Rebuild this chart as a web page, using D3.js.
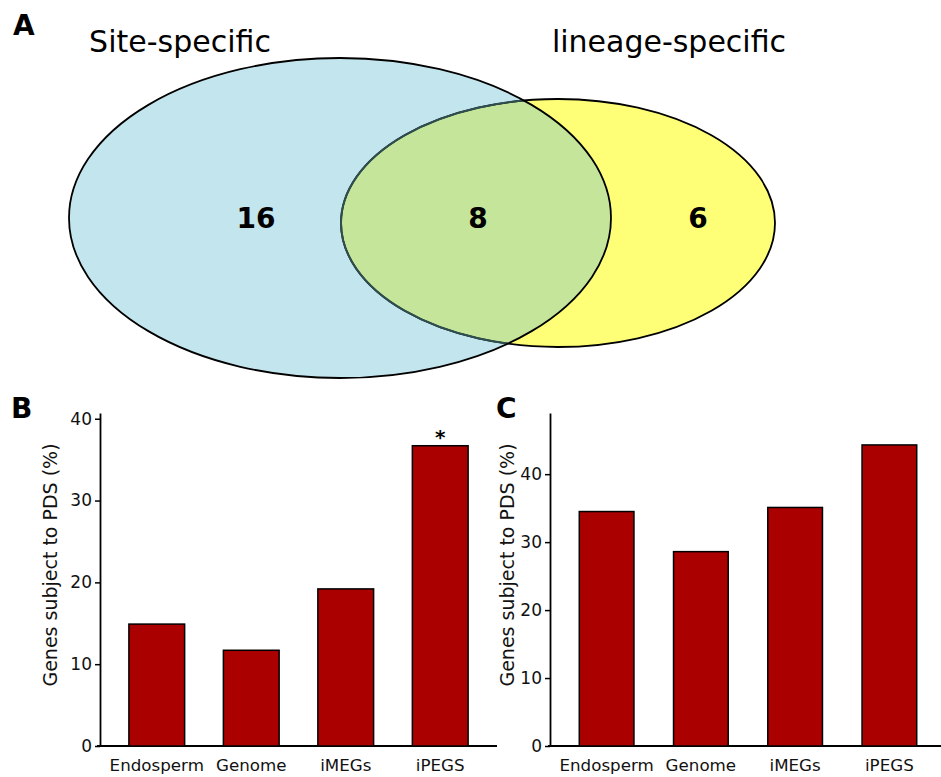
<!DOCTYPE html>
<html>
<head>
<meta charset="utf-8">
<script src="https://cdn.jsdelivr.net/npm/d3@7"></script>
<style>
  body { margin: 0; background: #fff; }
  svg { font-family: "DejaVu Sans", sans-serif; }
</style>
</head>
<body>
<svg id="chart" width="941" height="777"></svg>
<script>
// Venn data
let vennSets = ["Site-specific", "lineage-specific"];
let vennCounts = [16, 8, 6]; // only site, both, only lineage

// bar data
let categories = ["Endosperm", "Genome", "iMEGs", "iPEGS"];
let valuesB = [14.9, 11.7, 19.2, 36.7];
let valuesC = [34.5, 28.6, 35.1, 44.3];
let starsB = ["", "", "", "*"];
let ticksB = [0, 10, 20, 30, 40];
let ticksC = [0, 10, 20, 30, 40];

let svg = d3.select('#chart');

// panel letters
svg.selectAll('text.panel')
  .data([["A", 13, 35], ["B", 11, 418], ["C", 496, 418]])
  .enter().append('text')
  .attr('class', 'panel')
  .attr('x', d => d[1]).attr('y', d => d[2])
  .attr('font-size', 28).attr('font-weight', 'bold')
  .text(d => d[0]);

// ---- A: venn ----
let venn = svg.append('g');
let e1 = {cx: 340, cy: 218, rx: 271, ry: 160};
let e2 = {cx: 558, cy: 223, rx: 217, ry: 124};

let defs = svg.append('defs');
defs.append('clipPath').attr('id', 'clipBlue')
  .append('ellipse').attr('cx', e1.cx).attr('cy', e1.cy).attr('rx', e1.rx).attr('ry', e1.ry);

venn.append('ellipse').attr('cx', e1.cx).attr('cy', e1.cy).attr('rx', e1.rx).attr('ry', e1.ry)
  .attr('fill', '#c3e5ed');
venn.append('ellipse').attr('cx', e2.cx).attr('cy', e2.cy).attr('rx', e2.rx).attr('ry', e2.ry)
  .attr('fill', '#ffff77');
venn.append('ellipse').attr('cx', e2.cx).attr('cy', e2.cy).attr('rx', e2.rx).attr('ry', e2.ry)
  .attr('clip-path', 'url(#clipBlue)')
  .attr('fill', '#c5e59b');
venn.append('ellipse').attr('cx', e2.cx).attr('cy', e2.cy).attr('rx', e2.rx).attr('ry', e2.ry)
  .attr('fill', 'none').attr('stroke', '#000').attr('stroke-width', 1.8);
venn.append('ellipse').attr('cx', e2.cx).attr('cy', e2.cy).attr('rx', e2.rx).attr('ry', e2.ry)
  .attr('clip-path', 'url(#clipBlue)')
  .attr('fill', 'none').attr('stroke', '#2f4f4f').attr('stroke-width', 2);
venn.append('ellipse').attr('cx', e1.cx).attr('cy', e1.cy).attr('rx', e1.rx).attr('ry', e1.ry)
  .attr('fill', 'none').attr('stroke', '#000').attr('stroke-width', 1.8);

venn.selectAll('text.set')
  .data(vennSets)
  .enter().append('text')
  .attr('x', (d, i) => i == 0 ? 180 : 669)
  .attr('y', 52)
  .attr('text-anchor', 'middle')
  .attr('font-size', 30)
  .text(d => d);

let countX = [256, 478, 698];
venn.selectAll('text.count')
  .data(vennCounts)
  .enter().append('text')
  .attr('x', (d, i) => countX[i])
  .attr('y', 228)
  .attr('text-anchor', 'middle')
  .attr('font-size', 28).attr('font-weight', 'bold')
  .text(d => d);

// ---- bar panels ----
function barPanel(opts) {
  let g = svg.append('g');
  let x = d3.scaleBand().domain(categories).range(opts.xr)
    .paddingInner(opts.pi).paddingOuter(opts.po);
  let y = d3.scaleLinear().domain(opts.yd).range([746, 413]);

  let yAxis = d3.axisLeft(y).tickValues(opts.ticks).tickSize(5).tickSizeOuter(0);
  let ya = g.append('g').attr('transform', 'translate(' + opts.axisX + ',0)').call(yAxis);
  ya.select('.domain').attr('stroke-width', 1.8);
  ya.selectAll('.tick line').attr('stroke-width', 1.5);
  ya.selectAll('.tick text').attr('font-size', 17).attr('font-family', 'DejaVu Sans').attr('fill', '#111');

  // x baseline
  g.append('line').attr('x1', opts.baseline[0]).attr('x2', opts.baseline[1])
    .attr('y1', y(0)).attr('y2', y(0)).attr('stroke', '#000').attr('stroke-width', 1.8);

  g.selectAll('rect').data(opts.values).enter().append('rect')
    .attr('x', (d, i) => x(categories[i]))
    .attr('width', x.bandwidth())
    .attr('y', d => y(d))
    .attr('height', d => y(0) - y(d))
    .attr('fill', '#aa0000').attr('stroke', '#000').attr('stroke-width', 1.5);

  g.selectAll('text.cat').data(categories).enter().append('text')
    .attr('x', d => x(d) + x.bandwidth() / 2)
    .attr('y', 771)
    .attr('text-anchor', 'middle')
    .attr('font-size', 16.7).attr('fill', '#111')
    .text(d => d);

  if (opts.stars) {
    g.selectAll('text.star').data(opts.stars).enter().append('text')
      .attr('x', (d, i) => x(categories[i]) + x.bandwidth() / 2)
      .attr('y', (d, i) => y(opts.values[i]) - 2)
      .attr('text-anchor', 'middle')
      .attr('font-size', 20).attr('font-weight', 'bold')
      .text(d => d);
  }

  g.append('text')
    .attr('transform', 'translate(' + opts.labelX + ',565) rotate(-90)')
    .attr('text-anchor', 'middle')
    .attr('font-size', 19).attr('fill', '#111')
    .text('Genes subject to PDS (%)');
}

barPanel({xr: [110, 487], pi: 0.41, po: 0.2, yd: [0, 40.7], ticks: ticksB,
  axisX: 100, baseline: [97, 497], values: valuesB, stars: starsB, labelX: 57});
barPanel({xr: [551, 945], pi: 0.42, po: 0.3, yd: [0, 49], ticks: ticksC,
  axisX: 550, baseline: [548, 941], values: valuesC, labelX: 514});
</script>
</body>
</html>
